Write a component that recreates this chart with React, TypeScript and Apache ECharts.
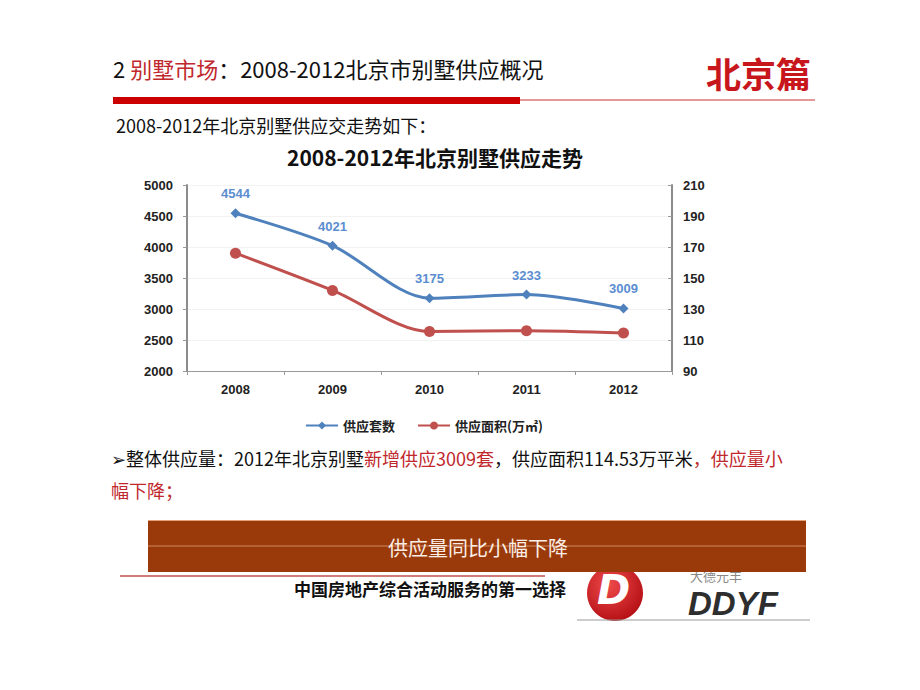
import React, { useEffect, useRef } from "react";
import * as echarts from "echarts";

const years = ["2008", "2009", "2010", "2011", "2012"];
const supplyUnits = [4544, 4021, 3175, 3233, 3009];
const supplyArea = [166, 142, 115.5, 116, 114.53];
const leftTicks = { min: 2000, max: 5000, interval: 500 };
const rightTicks = { min: 90, max: 210, interval: 20 };
const seriesNames = ["供应套数", "供应面积(万㎡)"];

const CJK = '"Noto Sans CJK SC", "Noto Sans", sans-serif';

export default function App() {
  const ref = useRef<HTMLDivElement>(null);
  useEffect(() => {
    if (!ref.current) return;
    const chart = echarts.init(ref.current, null, { renderer: "svg" });
    const axisLabelStyle = {
      fontFamily: "Arial, 'Liberation Sans', sans-serif",
      fontWeight: "bold",
      fontSize: 13,
      color: "#222",
    };
    chart.setOption({
      animation: false,
      backgroundColor: "#ffffff",
      title: {
        text: "2008-2012年北京别墅供应走势",
        left: 430,
        top: 141,
        textAlign: "center",
        textStyle: { fontFamily: CJK, fontWeight: "bold", fontSize: 21, color: "#111" },
      },
      grid: { left: 187, right: 248, top: 185, bottom: 319, containLabel: false },
      legend: {
        left: 300,
        top: 414,
        itemWidth: 32,
        itemHeight: 10,
        itemGap: 22,
        textStyle: { fontFamily: CJK, fontSize: 13, fontWeight: "bold", color: "#222" },
        data: seriesNames,
      },
      xAxis: {
        type: "category",
        data: years,
        boundaryGap: true,
        axisLine: { lineStyle: { color: "#999", width: 1 } },
        axisTick: { show: true, length: 4, lineStyle: { color: "#999" } },
        axisLabel: { ...axisLabelStyle, margin: 12 },
      },
      yAxis: [
        {
          type: "value",
          ...leftTicks,
          position: "left",
          axisLine: { show: true, lineStyle: { color: "#8c8c8c", width: 2 } },
          axisTick: { show: true, length: 4, lineStyle: { color: "#999" } },
          splitLine: { show: true, lineStyle: { color: "#f2f2f2" } },
          axisLabel: { ...axisLabelStyle, margin: 14, formatter: (v: number) => String(v) },
        },
        {
          type: "value",
          ...rightTicks,
          position: "right",
          axisLine: { show: true, lineStyle: { color: "#8c8c8c", width: 2 } },
          axisTick: { show: true, inside: true, length: 4, lineStyle: { color: "#999" } },
          splitLine: { show: false },
          axisLabel: { ...axisLabelStyle, margin: 11, formatter: (v: number) => String(v) },
        },
      ],
      series: [
        {
          name: seriesNames[0],
          type: "line",
          yAxisIndex: 0,
          data: supplyUnits,
          smooth: 0.3,
          symbol: "diamond",
          symbolSize: 10,
          lineStyle: { color: "#4f81bd", width: 3 },
          itemStyle: { color: "#4f81bd" },
          label: {
            show: true,
            position: "top",
            distance: 8,
            fontFamily: "Arial, 'Liberation Sans', sans-serif",
            fontWeight: "bold",
            fontSize: 13,
            color: "#5b8dd0",
          },
          z: 3,
        },
        {
          name: seriesNames[1],
          type: "line",
          yAxisIndex: 1,
          data: supplyArea,
          smooth: 0.3,
          symbol: "circle",
          symbolSize: 11,
          lineStyle: { color: "#c0504d", width: 3 },
          itemStyle: { color: "#c0504d" },
          z: 2,
        },
      ],
      graphic: [
        {
          type: "text",
          left: 113,
          top: 57,
          style: {
            text: "{k|2 }{r|别墅市场}{k|：2008-2012北京市别墅供应概况}",
            rich: {
              k: { fontFamily: CJK, fontSize: 22, fill: "#111" },
              r: { fontFamily: CJK, fontSize: 22, fill: "#c0282d" },
            },
          },
        },
        {
          type: "text",
          left: 706,
          top: 55,
          style: { text: "北京篇", fontFamily: CJK, fontSize: 35, fontWeight: "bold", fill: "#c8161d" },
        },
        { type: "rect", shape: { x: 113, y: 97, width: 407, height: 7 }, style: { fill: "#cc0000" } },
        { type: "line", shape: { x1: 520, y1: 100, x2: 815, y2: 100 }, style: { stroke: "#cc3333", lineWidth: 1 } },
        {
          type: "text",
          left: 116,
          top: 116,
          style: { text: "2008-2012年北京别墅供应交走势如下：", fontFamily: CJK, fontSize: 18, fill: "#111" },
        },
        {
          type: "text",
          left: 111,
          top: 442,
          style: {
            text: "{k|➢整体供应量：2012年北京别墅}{r|新增供应3009套}{k|，供应面积114.53万平米}{r|，供应量小}\n{r|幅下降；}",
            lineHeight: 32,
            rich: {
              k: { fontFamily: CJK, fontSize: 18, fill: "#111", lineHeight: 32 },
              r: { fontFamily: CJK, fontSize: 18, fill: "#c0282d", lineHeight: 32 },
            },
          },
        },
        // logo
        {
          type: "circle",
          shape: { cx: 615, cy: 593, r: 28 },
          style: {
            fill: new echarts.graphic.RadialGradient(0.4, 0.35, 0.7, [
              { offset: 0, color: "#ef4a4a" },
              { offset: 1, color: "#b30f14" },
            ]),
          },
        },
        {
          type: "text",
          left: 597,
          top: 570,
          style: { text: "D", fontFamily: "'DejaVu Sans', sans-serif", fontSize: 40, fontWeight: "bold", fontStyle: "italic", fill: "#ffffff" },
        },
        {
          type: "text",
          left: 690,
          top: 569,
          style: { text: "大德元丰", fontFamily: CJK, fontSize: 13, fill: "#888" },
        },
        {
          type: "text",
          left: 688,
          top: 587,
          style: { text: "DDYF", fontFamily: "'Liberation Sans', Arial, sans-serif", fontSize: 33, fontWeight: "bold", fontStyle: "italic", fill: "#2e2e2e" },
        },
        { type: "line", shape: { x1: 577, y1: 620, x2: 810, y2: 620 }, style: { stroke: "#9a9a9a", lineWidth: 1 } },
        // banner
        { type: "rect", shape: { x: 148, y: 520, width: 658, height: 52 }, style: { fill: "#9a3a0a" } },
        { type: "line", shape: { x1: 148, y1: 520.5, x2: 806, y2: 520.5 }, style: { stroke: "#e3a27a", lineWidth: 1 } },
        { type: "line", shape: { x1: 148, y1: 546, x2: 806, y2: 546 }, style: { stroke: "rgba(255,200,170,0.55)", lineWidth: 1 } },
        {
          type: "text",
          x: 478,
          y: 547,
          style: { text: "供应量同比小幅下降", fontFamily: CJK, fontSize: 20, fill: "#fbeee6", align: "center", verticalAlign: "middle" },
        },
        { type: "line", shape: { x1: 120, y1: 576, x2: 545, y2: 576 }, style: { stroke: "#c0504d", lineWidth: 1.5 } },
        {
          type: "text",
          x: 430,
          y: 588,
          style: { text: "中国房地产综合活动服务的第一选择", fontFamily: CJK, fontSize: 17, fontWeight: "bold", fill: "#111", align: "center", verticalAlign: "middle" },
        },
      ],
    });
    return () => chart.dispose();
  }, []);
  return (
    <div
      ref={ref}
      style={{ position: "fixed", left: 0, top: 0, width: 920, height: 690, background: "#fff" }}
    />
  );
}
